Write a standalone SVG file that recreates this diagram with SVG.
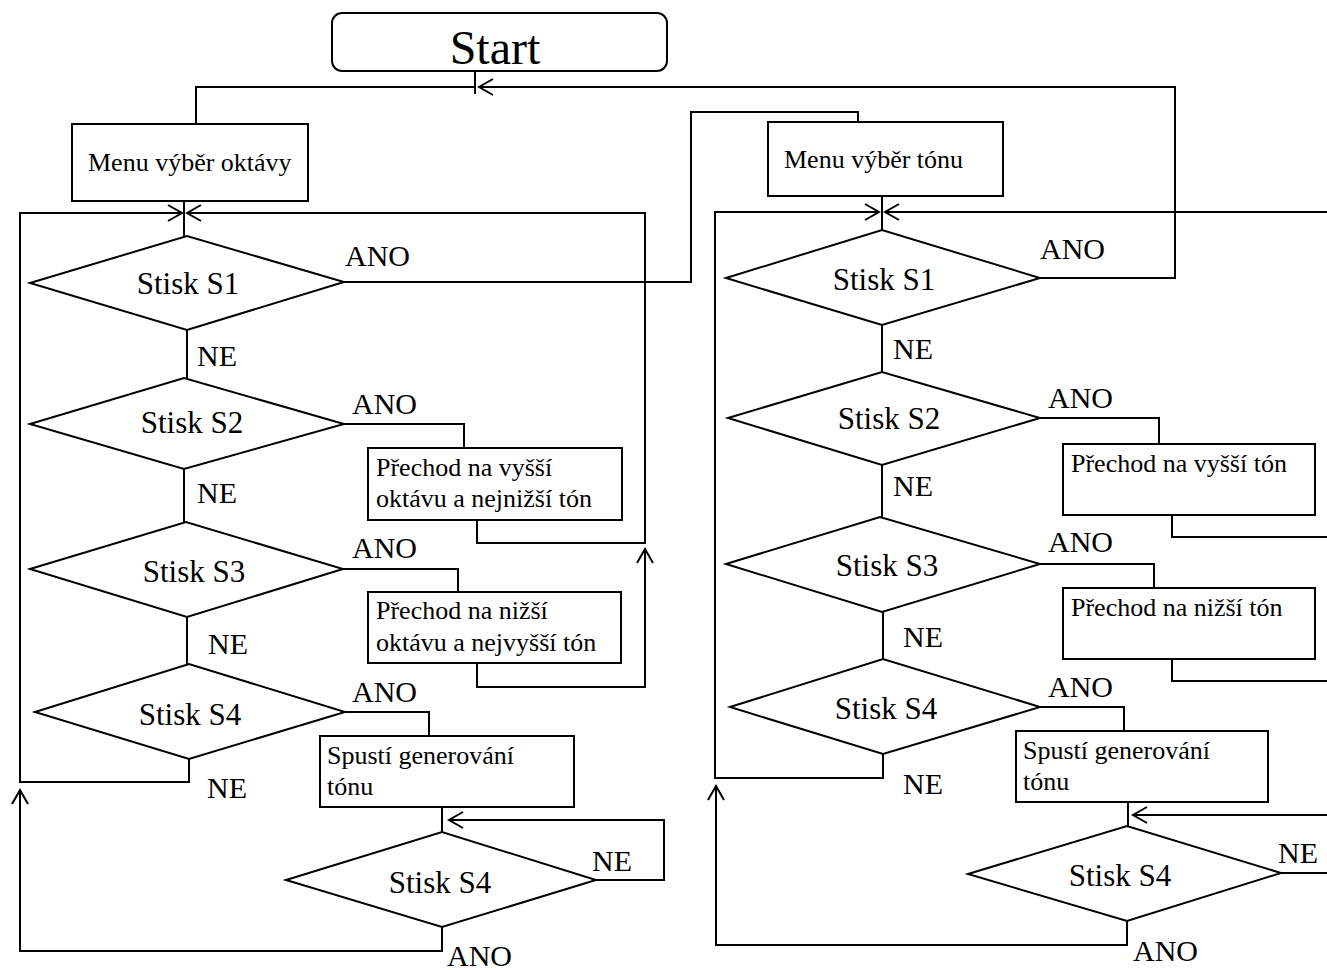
<svg xmlns="http://www.w3.org/2000/svg" width="1327" height="970" viewBox="0 0 1327 970" font-family="'Liberation Serif', 'Times New Roman', 'DejaVu Serif', serif">
<style>
.s{fill:#fff;stroke:#000;stroke-width:2}
.c{fill:none;stroke:#000;stroke-width:2}
text{font-family:'Liberation Serif','Times New Roman','DejaVu Serif',serif;fill:#000}
.lb{font-size:30px}
.dt{font-size:31px;text-anchor:middle}
.bt{font-size:26px}
</style>
<defs>
<marker id="a" markerUnits="userSpaceOnUse" markerWidth="20" markerHeight="20" orient="auto" overflow="visible" refX="0" refY="0">
<path d="M-14,-8 L0,0 L-14,8" fill="none" stroke="#000" stroke-width="2"/>
</marker>
</defs>
<rect width="1327" height="970" fill="#fff"/>
<g id="connectors">
<path class="c" d="M475,71 V94"/>
<path class="c" d="M475,87 H196 V124"/>
<path class="c" d="M1040,278 H1175 V87 H479" marker-end="url(#a)"/>
<path class="c" d="M184,201 V236"/>
<path class="c" d="M189,759 V782 H20 V213 H182" marker-end="url(#a)"/>
<path class="c" d="M477,520 V543 H645 V213 H187" marker-end="url(#a)"/>
<path class="c" d="M477,663 V687 H645 V549" marker-end="url(#a)"/>
<path class="c" d="M344,282 H691 V112 H858 V122"/>
<path class="c" d="M187,330 V378"/>
<path class="c" d="M344,424 H464 V448"/>
<path class="c" d="M184,469 V522"/>
<path class="c" d="M343,569 H458 V592"/>
<path class="c" d="M187,617 V664"/>
<path class="c" d="M345,712 H429 V736"/>
<path class="c" d="M442,807 V832"/>
<path class="c" d="M596,880 H664 V820 H449" marker-end="url(#a)"/>
<path class="c" d="M442,927 V951 H20 V790" marker-end="url(#a)"/>
<path class="c" d="M882,196 V230"/>
<path class="c" d="M1327,212 H885" marker-end="url(#a)"/>
<path class="c" d="M883,754 V778 H715 V212 H879" marker-end="url(#a)"/>
<path class="c" d="M882,325 V372"/>
<path class="c" d="M1040,418 H1159 V444"/>
<path class="c" d="M1172,515 V537 H1327"/>
<path class="c" d="M882,465 V517"/>
<path class="c" d="M1040,564 H1154 V588"/>
<path class="c" d="M1172,659 V681 H1327"/>
<path class="c" d="M883,612 V659"/>
<path class="c" d="M1040,707 H1124 V731"/>
<path class="c" d="M1128,802 V826"/>
<path class="c" d="M1327,815 H1133" marker-end="url(#a)"/>
<path class="c" d="M1281,873 H1327"/>
<path class="c" d="M1127,921 V945 H716 V786" marker-end="url(#a)"/>
</g>
<g id="labels">
<text class="lb" x="345" y="266">ANO</text>
<text class="lb" x="197" y="366">NE</text>
<text class="lb" x="352" y="414">ANO</text>
<text class="lb" x="197" y="503">NE</text>
<text class="lb" x="352" y="558">ANO</text>
<text class="lb" x="208" y="654">NE</text>
<text class="lb" x="352" y="702">ANO</text>
<text class="lb" x="207" y="798">NE</text>
<text class="lb" x="592" y="871">NE</text>
<text class="lb" x="447" y="966">ANO</text>
<text class="lb" x="1040" y="259">ANO</text>
<text class="lb" x="893" y="359">NE</text>
<text class="lb" x="1048" y="408">ANO</text>
<text class="lb" x="893" y="496">NE</text>
<text class="lb" x="1048" y="552">ANO</text>
<text class="lb" x="903" y="647">NE</text>
<text class="lb" x="1048" y="697">ANO</text>
<text class="lb" x="903" y="794">NE</text>
<text class="lb" x="1278" y="863">NE</text>
<text class="lb" x="1133" y="961">ANO</text>
</g>
<g id="start">
<rect class="s" x="332" y="13" width="335" height="58" rx="10"/>
<text x="495" y="64" font-size="48" text-anchor="middle">Start</text>
</g>
<g id="menu-oktavy">
<rect class="s" x="72" y="124" width="236" height="77"/>
<text class="bt" x="88" y="171">Menu výběr oktávy</text>
</g>
<g id="l-s1">
<polygon class="s" points="30,283 187,236 344,282 187,330"/>
<text class="dt" x="188" y="294">Stisk S1</text>
</g>
<g id="l-s2">
<polygon class="s" points="30,424 184,378 344,424 184,469"/>
<text class="dt" x="192" y="433">Stisk S2</text>
</g>
<g id="l-box1">
<rect class="s" x="368" y="448" width="254" height="72"/>
<text class="bt" x="376" y="476">Přechod na vyšší</text>
<text class="bt" x="376" y="507">oktávu a nejnižší tón</text>
</g>
<g id="l-s3">
<polygon class="s" points="30,569 186,522 343,569 187,617"/>
<text class="dt" x="194" y="582">Stisk S3</text>
</g>
<g id="l-box2">
<rect class="s" x="368" y="592" width="253" height="71"/>
<text class="bt" x="376" y="619">Přechod na nižší</text>
<text class="bt" x="376" y="651">oktávu a nejvyšší tón</text>
</g>
<g id="l-s4">
<polygon class="s" points="35,712 189,664 345,712 189,759"/>
<text class="dt" x="190" y="725">Stisk S4</text>
</g>
<g id="l-box3">
<rect class="s" x="320" y="736" width="254" height="71"/>
<text class="bt" x="327" y="764">Spustí generování</text>
<text class="bt" x="327" y="795">tónu</text>
</g>
<g id="l-s4b">
<polygon class="s" points="286,880 442,832 596,880 442,927"/>
<text class="dt" x="440" y="893">Stisk S4</text>
</g>
<g id="menu-tonu">
<rect class="s" x="768" y="122" width="235" height="74"/>
<text class="bt" x="784" y="168">Menu výběr tónu</text>
</g>
<g id="r-s1">
<polygon class="s" points="726,278 882,230 1040,278 882,325"/>
<text class="dt" x="884" y="290">Stisk S1</text>
</g>
<g id="r-s2">
<polygon class="s" points="728,418 882,372 1040,418 882,465"/>
<text class="dt" x="889" y="429">Stisk S2</text>
</g>
<g id="r-box1">
<rect class="s" x="1063" y="444" width="252" height="71"/>
<text class="bt" x="1071" y="472">Přechod na vyšší tón</text>
</g>
<g id="r-s3">
<polygon class="s" points="726,564 880,517 1040,564 882,612"/>
<text class="dt" x="887" y="576">Stisk S3</text>
</g>
<g id="r-box2">
<rect class="s" x="1063" y="588" width="252" height="71"/>
<text class="bt" x="1071" y="616">Přechod na nižší tón</text>
</g>
<g id="r-s4">
<polygon class="s" points="730,707 883,659 1040,707 883,754"/>
<text class="dt" x="886" y="719">Stisk S4</text>
</g>
<g id="r-box3">
<rect class="s" x="1016" y="731" width="252" height="71"/>
<text class="bt" x="1023" y="759">Spustí generování</text>
<text class="bt" x="1023" y="790">tónu</text>
</g>
<g id="r-s4b">
<polygon class="s" points="968,874 1127,826 1281,873 1127,921"/>
<text class="dt" x="1120" y="886">Stisk S4</text>
</g>
</svg>
